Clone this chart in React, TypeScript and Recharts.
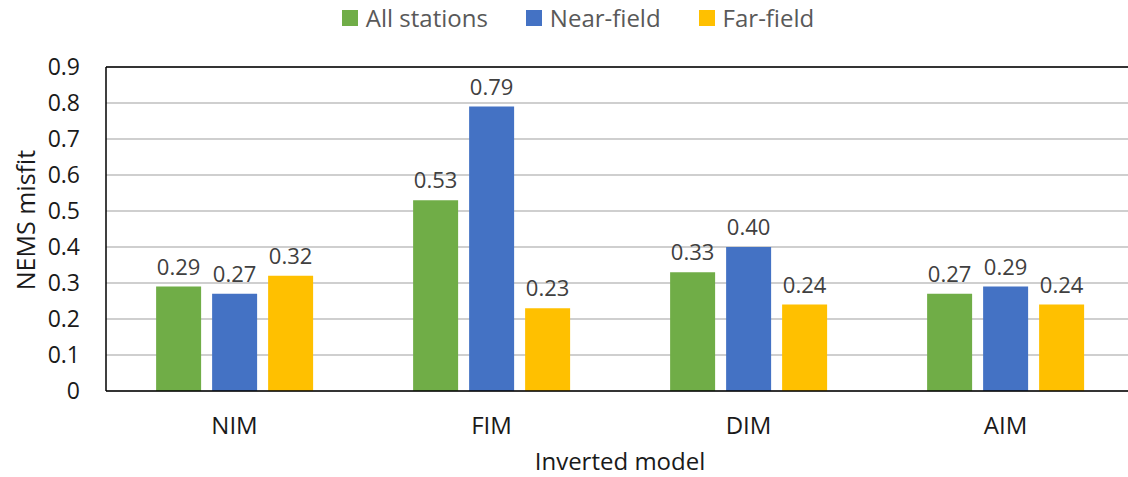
import React from "react"
import { Bar, BarChart, CartesianGrid, LabelList, ReferenceLine, XAxis, YAxis } from "recharts"

const models = ["NIM", "FIM", "DIM", "AIM"]
const allStations = [0.29, 0.53, 0.33, 0.27]
const nearField = [0.27, 0.79, 0.4, 0.29]
const farField = [0.32, 0.23, 0.24, 0.24]
const yTicks = [0, 0.1, 0.2, 0.3, 0.4, 0.5, 0.6, 0.7, 0.8, 0.9]

const series = [
  { key: "all", name: "All stations", color: "#70AD47" },
  { key: "near", name: "Near-field", color: "#4472C4" },
  { key: "far", name: "Far-field", color: "#FFC000" },
]

const data = models.map((m, i) => ({
  model: m,
  all: allStations[i],
  near: nearField[i],
  far: farField[i],
}))

const FONT = "'Open Sans', 'Noto Sans', sans-serif"

const Legend = () => (
  <div
    style={{
      position: "absolute",
      left: 0,
      top: 1,
      width: 1156,
      display: "flex",
      justifyContent: "center",
      fontFamily: FONT,
      fontSize: 24,
      color: "#595959",
    }}
  >
    {series.map((s) => (
      <div key={s.key} style={{ display: "flex", alignItems: "center", margin: "0 19px" }}>
        <span style={{ width: 16, height: 16, background: s.color, marginRight: 8 }} />
        <span>{s.name}</span>
      </div>
    ))}
  </div>
)

export default function App() {
  return (
    <div
      style={{
        position: "fixed",
        left: 0,
        top: 0,
        width: 1128,
        height: 477,
        overflow: "hidden",
        background: "#fff",
      }}
    >
      <BarChart
        width={1140}
        height={477}
        data={data}
        margin={{ top: 67, right: 6, bottom: 0, left: 0 }}
        barCategoryGap="19.5%"
        barGap={11}
        style={{ fontFamily: FONT }}
      >
        <CartesianGrid vertical={false} stroke="#BFBFBF" strokeWidth={1.5} />
        <XAxis
          dataKey="model"
          height={86}
          tickLine={false}
          tickSize={0}
          tickMargin={26}
          axisLine={{ stroke: "#000", strokeWidth: 1.5 }}
          tick={{ fontSize: 24, fill: "#1a1a1a" }}
          label={({ viewBox }: any) => (
            <text
              x={viewBox.x + viewBox.width / 2}
              y={viewBox.y + 79}
              textAnchor="middle"
              fontSize={24}
              fill="#1a1a1a"
              fontFamily={FONT}
            >
              Inverted model
            </text>
          )}
        />
        <YAxis
          width={106}
          domain={[0, 0.9]}
          ticks={yTicks}
          interval={0}
          tickLine={false}
          tickSize={0}
          tickMargin={26}
          axisLine={{ stroke: "#000", strokeWidth: 1.5 }}
          tick={{ fontSize: 23, fill: "#1a1a1a" }}
          tickFormatter={(v: number) => (v === 0 ? "0" : v.toFixed(1))}
          label={() => (
            <text
              x={25}
              y={220}
              transform={`rotate(-90, 25, 220)`}
              textAnchor="middle"
              dominantBaseline="central"
              fontSize={25}
              fill="#1a1a1a"
              fontFamily={FONT}
            >
              NEMS misfit
            </text>
          )}
        />
        <ReferenceLine y={0.9} stroke="#000" strokeWidth={1.5} />
        {series.map((s) => (
          <Bar key={s.key} dataKey={s.key} name={s.name} fill={s.color} isAnimationActive={false}>
            <LabelList
              dataKey={s.key}
              position="top"
              offset={12}
              formatter={(v: number) => v.toFixed(2)}
              style={{ fontSize: 22, fill: "#404040", fontFamily: FONT }}
            />
          </Bar>
        ))}
      </BarChart>
      <Legend />
    </div>
  )
}
